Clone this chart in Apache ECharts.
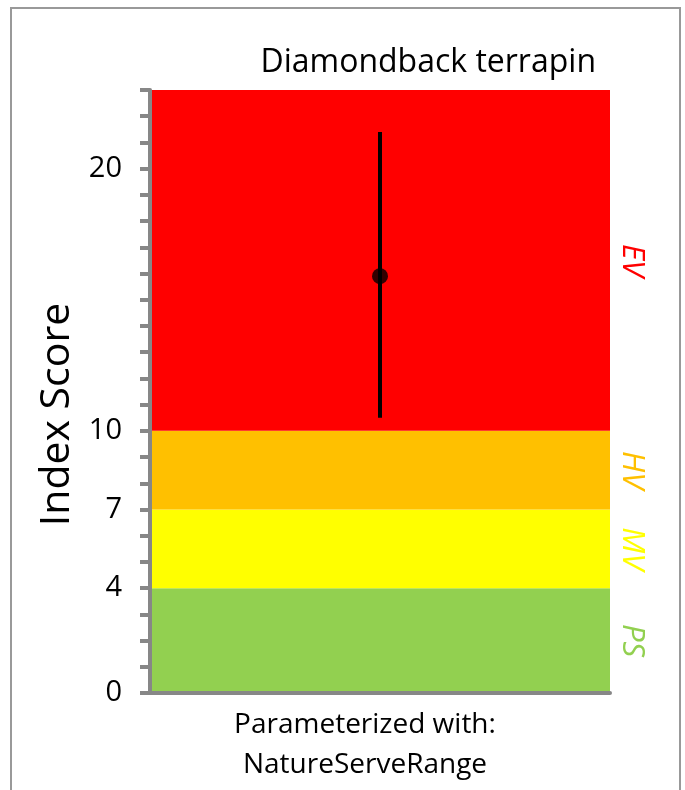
<!DOCTYPE html>
<html><head><meta charset="utf-8">
<script src="https://cdn.jsdelivr.net/npm/echarts@6/dist/echarts.min.js"></script>
<style>html,body{margin:0;padding:0;background:#fff}#c{width:685px;height:790px}</style>
</head><body><div id="c"></div>
<script>
var categories = ['Parameterized with:\nNatureServeRange'];
var bandNames = ['PS', 'MV', 'HV', 'EV'];
var bandHeights = [4, 3, 3, 13];
var bandColors = ['#92D050', '#FFFF00', '#FFC000', '#FF0000'];
var errLow = 10.5, errMean = 15.9, errHigh = 21.4;
var yTickLabels = [0, 4, 7, 10, 20];
var yMin = 0, yMax = 23;

var chart = echarts.init(document.getElementById('c'), null, {renderer: 'canvas'});
var FONT = '"Open Sans", sans-serif';
var bandSeries = bandNames.map(function (n, i) {
  return {
    type: 'bar', name: n, stack: 'bands', barWidth: '100%',
    data: [bandHeights[i]],
    itemStyle: {color: bandColors[i]},
    silent: true,
    label: {
      show: true, position: 'right', distance: 22, rotate: -90,
      align: 'center', verticalAlign: 'middle',
      formatter: n, color: bandColors[i], fontStyle: 'italic',
      fontFamily: FONT, fontSize: 31
    }
  };
});
chart.setOption({
  animation: false,
  title: {
    text: 'Diamondback terrapin', right: 84, top: 42,
    textStyle: {fontFamily: FONT, fontSize: 32, fontWeight: 'normal', color: '#000'}
  },
  graphic: [{
    type: 'rect', shape: {x: 11, y: 8, width: 669, height: 800},
    style: {fill: 'none', stroke: '#999', lineWidth: 2}, silent: true
  }],
  grid: {left: 150, right: 75, top: 90, bottom: 97},
  xAxis: {
    type: 'category', data: categories, z: 10,
    axisLine: {lineStyle: {color: '#878787', width: 4}},
    axisTick: {show: false},
    axisLabel: {fontFamily: FONT, fontSize: 28, color: '#000', lineHeight: 40, margin: 12, padding: [0, 30, 0, 0]}
  },
  yAxis: {
    type: 'value', min: yMin, max: yMax, interval: 1, z: 10,
    name: 'Index Score', nameLocation: 'middle', nameGap: 70,
    nameTextStyle: {fontFamily: FONT, fontSize: 41, color: '#000', padding: [0, 46, 0, 0]},
    axisLine: {show: true, lineStyle: {color: '#878787', width: 4}},
    axisTick: {show: true, length: 10, lineStyle: {color: '#878787', width: 4}},
    splitLine: {show: false},
    axisLabel: {
      fontFamily: FONT, fontSize: 29, color: '#000', margin: 28,
      formatter: function (v) { return yTickLabels.indexOf(v) >= 0 ? String(v) : ''; }
    }
  },
  series: bandSeries.concat([
    {
      type: 'line', data: [[0, errLow], [0, errHigh]], symbol: 'none',
      lineStyle: {color: '#000', width: 4}, silent: true, z: 5
    },
    {
      type: 'scatter', data: [[0, errMean]], symbolSize: 16,
      itemStyle: {color: '#000'}, silent: true, z: 6
    }
  ])
});
</script></body></html>
